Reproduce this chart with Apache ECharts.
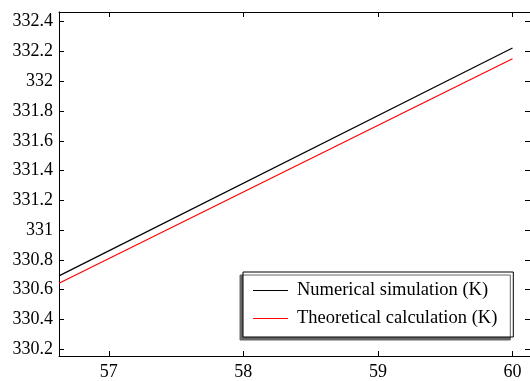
<!DOCTYPE html>
<html>
<head>
<meta charset="utf-8">
<script src="https://cdn.jsdelivr.net/npm/echarts@6/dist/echarts.min.js"></script>
<style>html,body{margin:0;padding:0;background:#fff}#c{width:530px;height:381px}</style>
</head>
<body>
<div id="c"></div>
<script>
var xRange = [56.63, 60.13];
var yRange = [330.155, 332.465];
var xTicks = [57, 58, 59, 60];
var yTicks = [330.2, 330.4, 330.6, 330.8, 331, 331.2, 331.4, 331.6, 331.8, 332, 332.2, 332.4];
var xData = [56.63, 60];
var numerical = [330.693, 332.223];
var theoretical = [330.643, 332.151];
var seriesNames = ['Numerical simulation (K)', 'Theoretical calculation (K)'];

var font = 'Liberation Serif, Times New Roman, serif';
function pairs(xs, ys) { return xs.map(function (x, i) { return [x, ys[i]]; }); }
function fmt(v) { return String(+(+v).toFixed(1)); }

var axisLine = { show: true, onZero: false, lineStyle: { color: '#000', width: 1 } };
var tickStyle = { color: '#000', width: 1 };

var chart = echarts.init(document.getElementById('c'));
chart.setOption({
  animation: false,
  grid: { left: 59, right: -1, top: 12, bottom: 25, containLabel: false },
  xAxis: [{
    type: 'value', min: xRange[0], max: xRange[1], position: 'bottom',
    axisLine: axisLine,
    axisTick: { show: true, inside: true, length: 5, lineStyle: tickStyle, customValues: xTicks },
    axisLabel: { show: true, customValues: xTicks, formatter: fmt, color: '#000', fontFamily: font, fontSize: 18, margin: 7 },
    splitLine: { show: false }
  }, {
    type: 'value', min: xRange[0], max: xRange[1], position: 'top',
    axisLine: axisLine,
    axisTick: { show: true, inside: true, length: 5, lineStyle: tickStyle, customValues: xTicks },
    axisLabel: { show: false },
    splitLine: { show: false }
  }],
  yAxis: [{
    type: 'value', min: yRange[0], max: yRange[1], position: 'left',
    axisLine: axisLine,
    axisTick: { show: true, inside: true, length: 5, lineStyle: tickStyle, customValues: yTicks },
    axisLabel: { show: true, customValues: yTicks, formatter: fmt, color: '#000', fontFamily: font, fontSize: 18, margin: 6 },
    splitLine: { show: false }
  }, {
    type: 'value', min: yRange[0], max: yRange[1], position: 'right',
    axisLine: axisLine,
    axisTick: { show: true, inside: true, length: 5, lineStyle: tickStyle, customValues: yTicks },
    axisLabel: { show: false },
    splitLine: { show: false }
  }],
  legend: {
    orient: 'vertical',
    left: 243, top: 272,
    padding: [9, 16, 9, 10],
    itemGap: 9,
    itemWidth: 35, itemHeight: 20,
    backgroundColor: '#fff',
    borderColor: '#000', borderWidth: 1, borderRadius: 0,
    shadowColor: '#666', shadowBlur: 0, shadowOffsetX: -3, shadowOffsetY: 3,
    textStyle: { color: '#000', fontFamily: font, fontSize: 18.5, padding: [0, 0, 0, 4] },
    data: [
      { name: seriesNames[0], icon: 'path://M0,0 L35,0 L35,1 L0,1 Z', itemStyle: { color: '#000' } },
      { name: seriesNames[1], icon: 'path://M0,0 L35,0 L35,1 L0,1 Z', itemStyle: { color: '#ff0000' } }
    ]
  },
  series: [{
    name: seriesNames[0], type: 'line', data: pairs(xData, numerical),
    showSymbol: false, symbol: 'none', lineStyle: { color: '#000', width: 1.2 }, itemStyle: { color: '#000' }
  }, {
    name: seriesNames[1], type: 'line', data: pairs(xData, theoretical),
    showSymbol: false, symbol: 'none', lineStyle: { color: '#ff0000', width: 1.2 }, itemStyle: { color: '#ff0000' }
  }]
});
</script>
</body>
</html>
